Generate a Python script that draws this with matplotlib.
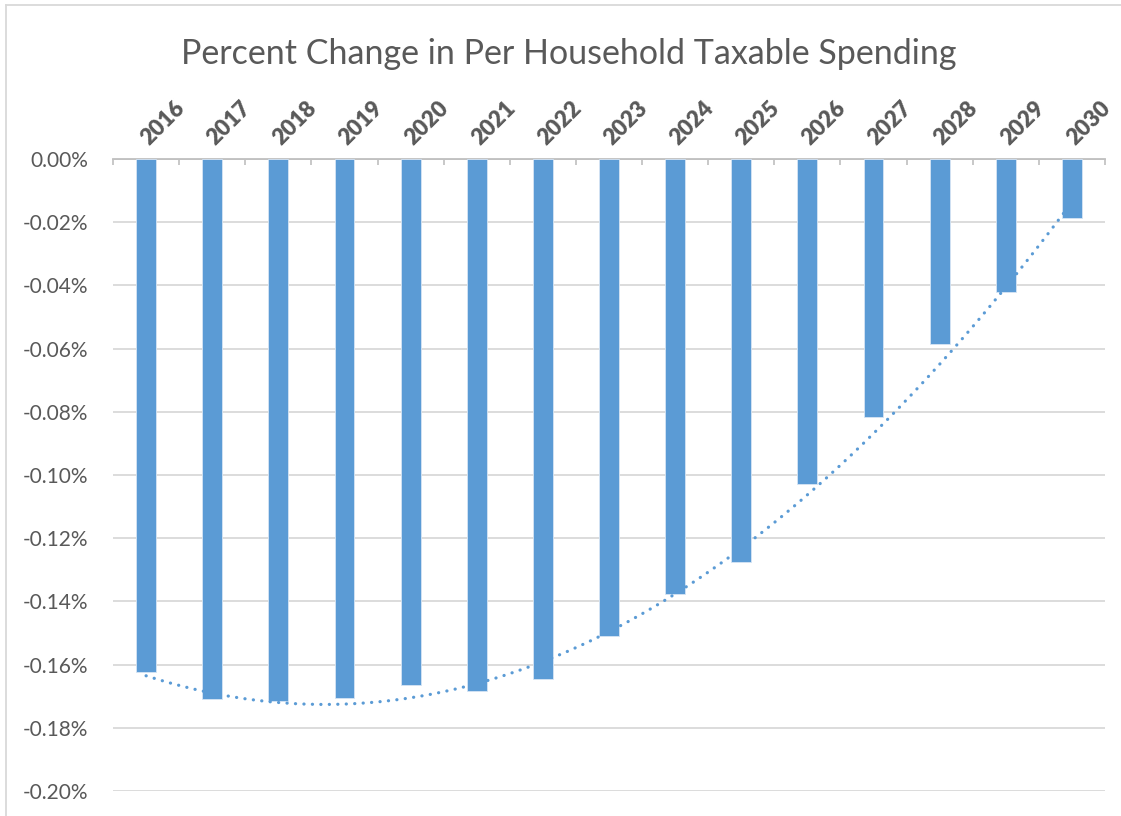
import matplotlib.pyplot as plt
import matplotlib.transforms as mtransforms
import numpy as np
from matplotlib.lines import Line2D

# Data (percent change, in %)
years = ["2016", "2017", "2018", "2019", "2020", "2021", "2022", "2023",
         "2024", "2025", "2026", "2027", "2028", "2029", "2030"]
pct_change = [-0.1622, -0.1710, -0.1715, -0.1707, -0.1666, -0.1685, -0.1646,
              -0.1509, -0.1377, -0.1276, -0.1028, -0.0816, -0.0587, -0.0421,
              -0.0188]
y_ticks = [0.00, -0.02, -0.04, -0.06, -0.08, -0.10, -0.12, -0.14, -0.16,
           -0.18, -0.20]

bar_color = "#5B9BD5"
text_color = "#595959"
font = ["Lato", "DejaVu Sans"]
plt.rcParams["font.family"] = font

W, H = 1121, 816
fig = plt.figure(figsize=(W / 100, H / 100), dpi=100)
ax = fig.add_axes([113 / W, 1 - 791 / H, (1105 - 113) / W, (791 - 159) / H])

x = np.arange(1, len(years) + 1)
ax.bar(x, pct_change, width=0.3, color=bar_color, edgecolor="#D6E5F4",
       linewidth=0.6, zorder=3)

# polynomial (order 2) trendline, as in the spreadsheet
coef = np.polyfit(x, pct_change, 2)
xs = np.linspace(x[0], x[-1], 300)
ax.plot(xs, np.polyval(coef, xs), color=bar_color, linewidth=2.3,
        linestyle=(0, (0.05, 2.6)), dash_capstyle="round", zorder=4)

ax.set_xlim(0.5, len(years) + 0.5)
ax.set_ylim(-0.20, 0.0)

# y axis
ax.set_yticks(y_ticks)
ax.set_yticklabels([f"{v:.2f}%" for v in y_ticks], fontsize=15,
                   color=text_color)
ax.tick_params(axis="y", length=0, pad=18)
ax.grid(axis="y", color="#D9D9D9", linewidth=1.3, zorder=0)
ax.set_axisbelow(True)

# x axis on top
ax.xaxis.tick_top()
ax.set_xticks(x)
ax.set_xticklabels(years, rotation=45, ha="left", rotation_mode="anchor",
                   fontsize=16, fontweight="heavy", color=text_color)
ax.tick_params(axis="x", which="major", length=0, pad=7)
shift = mtransforms.ScaledTranslation(6 / 100, 0, fig.dpi_scale_trans)
for lbl in ax.get_xticklabels():
    lbl.set_transform(lbl.get_transform() + shift)
ax.set_xticks(np.arange(0.5, len(years) + 1), minor=True)
ax.tick_params(axis="x", which="minor", top=True, bottom=False,
               direction="in", length=4.5, color="#BFBFBF", width=1.2)

for side in ["left", "right", "bottom"]:
    ax.spines[side].set_visible(False)
ax.spines["top"].set_color("#BFBFBF")
ax.spines["top"].set_linewidth(1.3)

fig.text(0.507, 1 - 64 / H, "Percent Change in Per Household Taxable Spending",
         ha="center", va="baseline", fontsize=24.5, color=text_color)

# chart border
fig.add_artist(Line2D([6 / W, 6 / W], [0, 1 - 5 / H], color="#D9D9D9",
                      linewidth=1.3, transform=fig.transFigure))
fig.add_artist(Line2D([6 / W, 1], [1 - 5 / H, 1 - 5 / H], color="#D9D9D9",
                      linewidth=1.3, transform=fig.transFigure))

plt.savefig("out.png", dpi=100)
